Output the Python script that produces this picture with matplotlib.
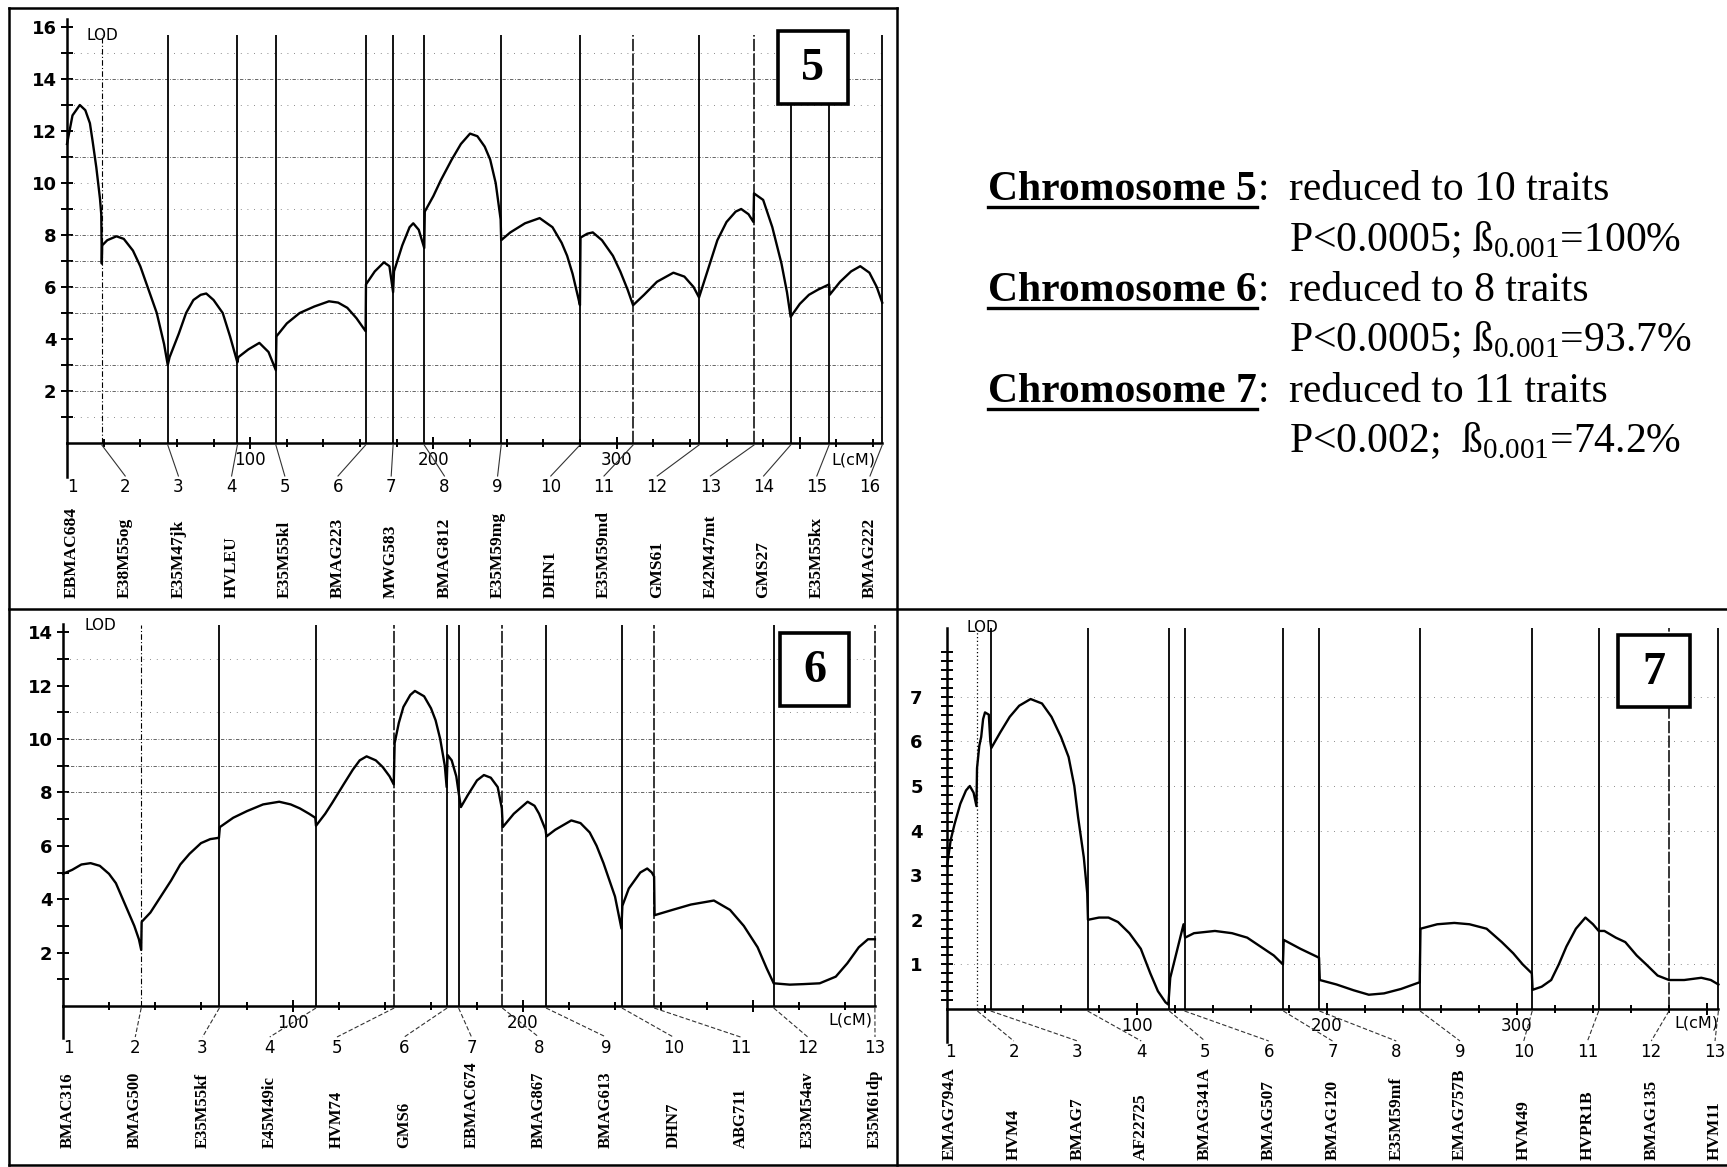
import matplotlib
matplotlib.use("Agg")
import matplotlib.pyplot as plt
import numpy as np
from matplotlib.patches import Rectangle

plt.rcParams['font.family'] = 'DejaVu Sans'
plt.rcParams['mathtext.fontset'] = 'custom'
plt.rcParams['mathtext.rm'] = 'Liberation Serif'

W, H = 1727, 1167

# ---------------- chromosome 5 ----------------
chr5_markers = [0, 19, 55, 93, 114, 163, 178, 195, 237, 280, 309, 345, 375, 395, 416, 445]
chr5_names = ['EBMAC684', 'E38M55og', 'E35M47jk', 'HVLEU', 'E35M55kl', 'BMAG223', 'MWG583',
              'BMAG812', 'E35M59mg', 'DHN1', 'E35M59md', 'GMS61', 'E42M47mt', 'GMS27',
              'E35M55kx', 'BMAG222']
chr5_styles = ['-', '-.', '-', '-', '-', '-', '-', '-', '-', '-', '--', '-', '--', '-', '-', '-']
chr5_cm = [0, 3, 7, 10, 12.5, 14, 16, 18, 18.7, 19, 19.2, 22, 27, 31, 36, 40, 44, 49, 53, 55,
           56, 61, 65, 69, 73, 76, 80, 85, 89, 93, 93.5, 99, 105, 110, 114, 114.3, 120, 127,
           135, 143, 148, 153, 158, 163, 163.2, 168, 173, 176, 178, 178.5, 183, 187, 189, 192,
           195, 195.3, 200, 204, 210, 215, 220, 224, 228, 231, 234, 236.7, 237, 242, 250, 258,
           265, 270, 273, 276, 279, 280, 280.3, 284, 287, 292, 298, 302, 306, 309, 315, 322,
           331, 337, 342, 345, 350, 355, 360, 365, 368, 372, 374.7, 375, 380, 385, 390, 393,
           395, 400, 405, 410, 416, 416.3, 422, 428, 433, 438, 442, 445]
chr5_lod = [11.5, 12.6, 13.0, 12.8, 12.3, 11.6, 10.6, 9.4, 8.8, 6.9, 7.6, 7.8, 7.95, 7.85, 7.4,
            6.8, 6.0, 5.0, 3.8, 3.0, 3.3, 4.2, 5.0, 5.5, 5.7, 5.75, 5.5, 5.0, 4.1, 3.1, 3.3,
            3.6, 3.85, 3.5, 2.8, 4.1, 4.6, 5.0, 5.25, 5.45, 5.4, 5.2, 4.8, 4.3, 6.1, 6.6, 6.95,
            6.8, 5.8, 6.6, 7.6, 8.3, 8.45, 8.2, 7.5, 8.9, 9.5, 10.1, 10.9, 11.5, 11.9, 11.8,
            11.4, 10.9, 10.0, 8.6, 7.8, 8.1, 8.45, 8.65, 8.3, 7.7, 7.2, 6.5, 5.6, 5.3, 7.9,
            8.05, 8.1, 7.8, 7.2, 6.6, 5.9, 5.3, 5.7, 6.2, 6.55, 6.4, 6.0, 5.6, 6.7, 7.8, 8.5,
            8.9, 9.0, 8.8, 8.5, 9.6, 9.35, 8.3, 6.9, 5.8, 4.85, 5.35, 5.7, 5.9, 6.1, 5.7, 6.2,
            6.6, 6.8, 6.55, 6.0, 5.4]
chr5_grid_dense = [2, 3, 5, 6, 7, 8, 11, 14]
chr5_grid_sparse = [1, 9, 10, 12, 13, 15]

# ---------------- chromosome 6 ----------------
chr6_markers = [0, 34, 68, 110, 144, 167, 172, 191, 210, 243, 257, 309, 353]
chr6_names = ['BMAC316', 'BMAG500', 'E35M55kf', 'E45M49ic', 'HVM74', 'GMS6', 'EBMAC674',
              'BMAG867', 'BMAG613', 'DHN7', 'ABG711', 'E33M54av', 'E35M61dp']
chr6_styles = ['-', '-.', '-', '-', '--', '-', '-', '--', '-', '-', '--', '-', '--']
chr6_cm = [0, 4, 8, 12, 16, 20, 23, 26, 28, 31, 33, 34, 34.2, 38, 41, 44, 47, 51, 55, 60, 64,
           67.8, 68.2, 74, 80, 87, 94, 99, 103, 107, 109.7, 110, 114, 117, 122, 126, 129, 132,
           136, 139, 142, 143.8, 144.2, 146, 148, 151, 153, 157, 160, 162, 164, 166, 166.8,
           167.2, 169, 171, 172, 173, 176, 180, 183, 186, 189, 190.8, 191.2, 196, 202, 205,
           207, 209.8, 210.2, 214, 221, 225, 229, 232, 235, 238, 240, 242.8, 243.2, 246, 251,
           254, 256, 257, 257.2, 265, 273, 283, 290, 296, 302, 306, 309, 316, 322, 329, 336,
           341, 346, 350, 353]
chr6_lod = [4.95, 5.1, 5.3, 5.35, 5.25, 4.95, 4.6, 4.0, 3.6, 3.0, 2.5, 2.1, 3.15, 3.5, 3.9,
            4.3, 4.7, 5.3, 5.7, 6.1, 6.25, 6.3, 6.7, 7.05, 7.3, 7.55, 7.65, 7.55, 7.4, 7.2,
            7.05, 6.75, 7.2, 7.6, 8.3, 8.85, 9.2, 9.35, 9.2, 8.95, 8.6, 8.3, 9.85, 10.6, 11.2,
            11.65, 11.8, 11.6, 11.15, 10.7, 10.0, 9.0, 8.2, 9.4, 9.2, 8.6, 8.0, 7.45, 7.9,
            8.45, 8.65, 8.55, 8.2, 7.4, 6.7, 7.2, 7.65, 7.5, 7.2, 6.6, 6.35, 6.6, 6.95, 6.85,
            6.5, 6.0, 5.35, 4.6, 4.1, 2.9, 3.75, 4.4, 5.0, 5.15, 5.0, 4.85, 3.4, 3.6, 3.8,
            3.95, 3.6, 3.0, 2.2, 1.4, 0.85, 0.8, 0.82, 0.85, 1.1, 1.6, 2.2, 2.5, 2.5]
chr6_grid_dense = [8, 9, 10]
chr6_grid_sparse = [11, 13]

# ---------------- chromosome 7 ----------------
chr7_markers = [0, 16, 23, 74, 117, 125, 177, 196, 249, 308, 343, 380, 406]
chr7_names = ['EMAG794A', 'HVM4', 'BMAG7', 'AF22725', 'BMAG341A', 'BMAG507', 'BMAG120',
              'E35M59mf', 'EMAG757B', 'HVM49', 'HVPR1B', 'BMAG135', 'HVM11']
chr7_styles = ['-', ':', '-', '-', '-', '-', '-', '-', '-', '-', '-', '--', '-']
chr7_cm = [0, 2, 4, 7, 10, 12, 14, 15.5, 15.8, 17, 18, 19, 20, 22, 22.8, 23.3, 28, 33, 38, 44,
           50, 55, 60, 64, 67, 69, 72, 73.8, 74.2, 80, 85, 90, 96, 102, 107, 111, 115, 116.5,
           117.5, 121, 124.5, 125.3, 130, 141, 150, 158, 165, 172, 176.8, 177.2, 186, 195.8,
           196.2, 205, 214, 222, 230, 239, 248.8, 249.2, 258, 267, 275, 284, 292, 298, 303,
           307.8, 308.2, 313, 318, 322, 326, 331, 336, 340, 343, 346, 352, 357, 363, 368, 374,
           380, 388, 397, 402, 406]
chr7_lod = [3.2, 3.8, 4.15, 4.6, 4.9, 5.0, 4.85, 4.55, 5.4, 5.9, 6.1, 6.5, 6.65, 6.6, 6.0,
            5.85, 6.2, 6.55, 6.8, 6.95, 6.85, 6.55, 6.1, 5.65, 5.0, 4.3, 3.4, 2.6, 2.0, 2.05,
            2.05, 1.95, 1.7, 1.35, 0.8, 0.4, 0.15, 0.1, 0.7, 1.3, 1.9, 1.6, 1.7, 1.75, 1.7,
            1.6, 1.4, 1.2, 1.0, 1.55, 1.35, 1.15, 0.65, 0.55, 0.42, 0.32, 0.35, 0.45, 0.6, 1.8,
            1.9, 1.93, 1.9, 1.8, 1.5, 1.25, 1.0, 0.8, 0.43, 0.5, 0.65, 1.0, 1.4, 1.8, 2.05,
            1.9, 1.75, 1.75, 1.6, 1.5, 1.2, 1.0, 0.75, 0.65, 0.65, 0.7, 0.65, 0.55]
chr7_grid_dense = []
chr7_grid_sparse = [1, 4, 5, 6, 7]

# text block
summary_heads = ['Chromosome 5', 'Chromosome 6', 'Chromosome 7']
summary_traits = ['reduced to 10 traits', 'reduced to 8 traits', 'reduced to 11 traits']
summary_stats = [r'P<0.0005; ß$_{\mathrm{0.001}}$=100%',
                 r'P<0.0005; ß$_{\mathrm{0.001}}$=93.7%',
                 r'P<0.002;  ß$_{\mathrm{0.001}}$=74.2%']

# panel geometry in pixels (layout only)
panels = [
    dict(num='5', markers=chr5_markers, names=chr5_names, styles=chr5_styles,
         cm=chr5_cm, lod=chr5_lod, dense=chr5_grid_dense, sparse=chr5_grid_sparse,
         x0=67, y0=443, sx=1.832, sy=26.0, xmax=445, ymax=16.3, vtop=15.7,
         yticks=np.arange(2, 17, 2), yminor=np.arange(1, 16, 1), ypad=3,
         xticks=[100, 200, 300, 400], xlabels=['100', '200', '300', ''],
         num_x=(72, 870), num_y=487, name_y=598, name_size=12.5, conn_ls='-',
         lod_xy=(102, 36), lcm_xy=(853, 460), box=(778, 31, 848, 104)),
    dict(num='6', markers=chr6_markers, names=chr6_names, styles=chr6_styles,
         cm=chr6_cm, lod=chr6_lod, dense=chr6_grid_dense, sparse=chr6_grid_sparse,
         x0=63, y0=1006, sx=2.3, sy=26.7, xmax=353, ymax=14.3, vtop=14.27,
         yticks=np.arange(2, 15, 2), yminor=np.arange(1, 14, 1), ypad=3,
         xticks=[100, 200, 300], xlabels=['100', '200', ''],
         num_x=(68, 875), num_y=1048, name_y=1148, name_size=12, conn_ls=(0, (4, 2)),
         lod_xy=(100, 626), lcm_xy=(850, 1020), box=(780, 633, 849, 706)),
    dict(num='7', markers=chr7_markers, names=chr7_names, styles=chr7_styles,
         cm=chr7_cm, lod=chr7_lod, dense=chr7_grid_dense, sparse=chr7_grid_sparse,
         x0=947, y0=1009, sx=1.9, sy=44.6, xmax=406, ymax=8.55, vtop=8.54,
         yticks=np.arange(1, 8, 1), yminor=np.arange(0.2, 8.01, 0.2), ypad=13,
         xticks=[100, 200, 300, 400], xlabels=['100', '200', '300', ''],
         num_x=(950, 1715), num_y=1052, name_y=1160, name_size=12.5, conn_ls=(0, (4, 2)),
         lod_xy=(982, 628), lcm_xy=(1696, 1023), box=(1618, 635, 1690, 707)),
]

line_styles = {'-': ('-', 1.3), '--': ((0, (8, 1.5)), 1.1), '-.': ((0, (5, 2, 1, 2)), 0.8),
               ':': ((0, (1, 2)), 0.9)}

fig = plt.figure(figsize=(W / 100, H / 100), dpi=100)
bg = fig.add_axes([0, 0, 1, 1])
bg.set_xlim(0, W)
bg.set_ylim(H, 0)
bg.axis('off')

axes = []
for p in panels:
    left = p['x0']
    right = p['x0'] + p['xmax'] * p['sx']
    top = p['y0'] - p['ymax'] * p['sy']
    ax = fig.add_axes([left / W, 1 - p['y0'] / H, (right - left) / W, (p['y0'] - top) / H])
    ax.set_xlim(0, p['xmax'])
    ax.set_ylim(0, p['ymax'])
    ax.patch.set_alpha(0)
    for s in ['top', 'right']:
        ax.spines[s].set_visible(False)
    for s in ['left', 'bottom']:
        ax.spines[s].set_linewidth(1.8)

    # grid
    if p['dense']:
        ax.hlines(p['dense'], 0, p['xmax'], colors='0.3', linestyles=(0, (4, 2, 1, 2)), lw=0.6)
    ax.hlines(p['sparse'], 0, p['xmax'], colors='0.4', linestyles=(0, (1, 7)), lw=0.6)

    # marker lines
    for m, st in zip(p['markers'][1:], p['styles'][1:]):
        ls, lw = line_styles[st]
        ax.vlines(m, 0, p['vtop'], colors='k', linestyles=ls, lw=lw, clip_on=False)

    # LOD profile
    ax.plot(p['cm'], p['lod'], color='k', lw=1.7, clip_on=False, zorder=5)

    # ticks
    ax.set_yticks(p['yticks'], [str(int(v)) for v in p['yticks']])
    ax.set_yticks(p['yminor'], minor=True)
    ax.set_xticks(p['xticks'], p['xlabels'])
    ax.set_xticks(np.arange(20, p['xmax'], 20), minor=True)
    ax.tick_params(axis='y', which='both', direction='inout', length=9, width=1.4,
                   pad=p['ypad'], labelsize=13)
    ax.tick_params(axis='x', which='major', direction='inout', length=9, width=1.4, pad=1,
                   labelsize=12)
    ax.tick_params(axis='x', which='minor', direction='inout', length=6, width=1.4)
    for lab in ax.get_yticklabels():
        lab.set_fontweight('bold')
    axes.append(ax)

fg = fig.add_axes([0, 0, 1, 1])
fg.set_xlim(0, W)
fg.set_ylim(H, 0)
fg.axis('off')
fg.patch.set_alpha(0)

for p in panels:
    n = len(p['markers'])
    nums_x = np.linspace(p['num_x'][0], p['num_x'][1], n)
    for i, (m, name) in enumerate(zip(p['markers'], p['names'])):
        mx = p['x0'] + m * p['sx']
        if i == 0:
            fg.plot([mx, mx], [p['y0'], p['num_y'] - 10], color='k', lw=1.8)
        else:
            fg.plot([mx, nums_x[i]], [p['y0'] + 2, p['num_y'] - 11], color='0.2', lw=0.8,
                    linestyle=p['conn_ls'])
        fg.text(nums_x[i], p['num_y'], str(i + 1), ha='center', va='center', fontsize=12)
        fg.text(nums_x[i], p['name_y'], name, rotation=90, ha='center', va='bottom',
                family='Liberation Serif', weight='bold', fontsize=p['name_size'])
    fg.text(*p['lod_xy'], 'LOD', ha='center', va='center', fontsize=11)
    fg.text(*p['lcm_xy'], 'L(cM)', ha='center', va='center', fontsize=11.5)
    x1, y1, x2, y2 = p['box']
    fg.add_patch(Rectangle((x1, y1), x2 - x1, y2 - y1, facecolor='white', edgecolor='k',
                           lw=2.6, zorder=6))
    fg.text((x1 + x2) / 2, (y1 + y2) / 2 + 2, p['num'], ha='center', va='center',
            family='Liberation Serif', weight='bold', fontsize=33, zorder=7)

# frames
frame_kw = dict(color='k', lw=1.8)
fg.plot([9, 897], [8, 8], **frame_kw)
fg.plot([9, 9], [8, 1165], **frame_kw)
fg.plot([897, 897], [8, 1165], **frame_kw)
fg.plot([9, 1727], [609, 609], **frame_kw)
fg.plot([9, 1727], [1165, 1165], **frame_kw)

# summary text
baselines = [200, 251, 301, 351, 402, 452]
heads = []
for k in range(3):
    yb = baselines[2 * k]
    t = fg.text(988, yb, summary_heads[k], family='Liberation Serif', weight='bold',
                fontsize=30, va='baseline', ha='left')
    heads.append((t, yb))
    fg.text(1289, yb, summary_traits[k], family='Liberation Serif', fontsize=30,
            va='baseline', ha='left')
    fg.text(1289, baselines[2 * k + 1], summary_stats[k], family='Liberation Serif',
            fontsize=30, va='baseline', ha='left')

fig.canvas.draw()
for t, yb in heads:
    bb = t.get_window_extent()
    fg.plot([bb.x0, bb.x1], [yb + 7, yb + 7], color='k', lw=2.4)
    fg.text(bb.x1 + 1, yb, ':', family='Liberation Serif', fontsize=30, va='baseline',
            ha='left')

fig.savefig('out.png', dpi=100)
